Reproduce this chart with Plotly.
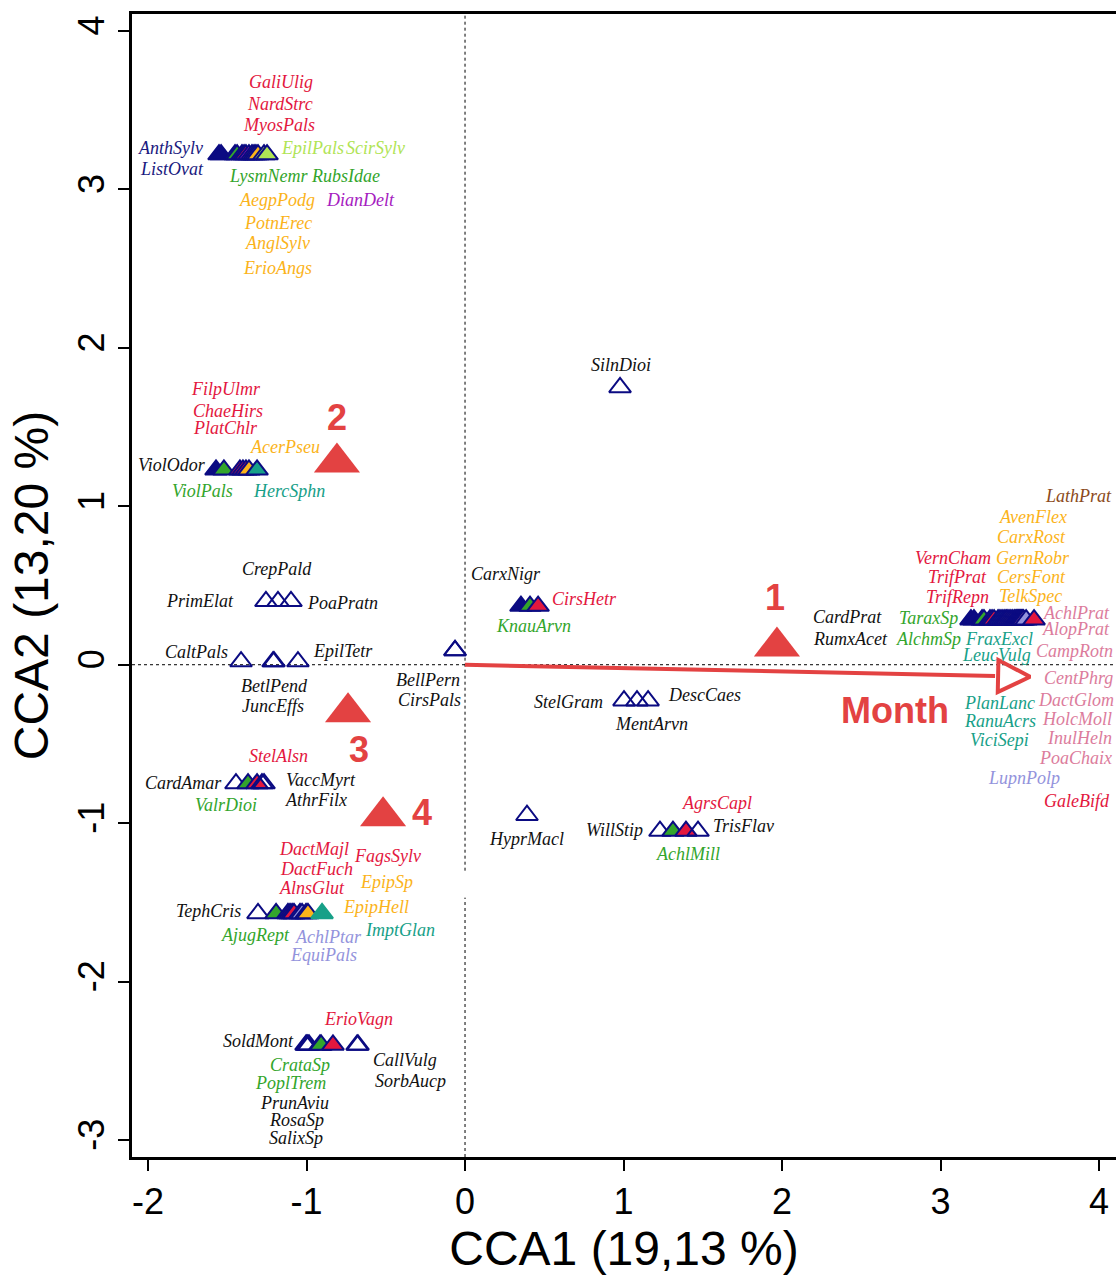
import plotly.graph_objects as go

# ---------------- data ----------------
species = [
    "AnthSylv", "ListOvat", "LysmNemr", "RubsIdae", "GaliUlig", "NardStrc", "MyosPals", "DianDelt",
    "AegpPodg", "PotnErec", "AnglSylv", "ErioAngs", "EpilPals", "ScirSylv",
    "ViolOdor", "ViolPals", "FilpUlmr", "ChaeHirs", "PlatChlr", "AcerPseu", "HercSphn",
    "PrimElat", "CrepPald", "PoaPratn",
    "CaltPals", "BetlPend", "JuncEffs", "EpilTetr",
    "BellPern", "CirsPals",
    "CarxNigr", "KnauArvn", "CirsHetr",
    "SilnDioi",
    "StelGram", "MentArvn", "DescCaes",
    "HyprMacl",
    "WillStip", "AchlMill", "AgrsCapl", "TrisFlav",
    "CardAmar", "ValrDioi", "StelAlsn", "VaccMyrt", "AthrFilx",
    "TephCris", "AjugRept", "DactMajl", "DactFuch", "AlnsGlut", "FagsSylv", "AchlPtar", "EquiPals",
    "EpipSp", "EpipHell", "ImptGlan",
    "SoldMont", "PrunAviu", "RosaSp", "SalixSp", "CrataSp", "PoplTrem", "ErioVagn", "CallVulg", "SorbAucp",
    "CardPrat", "RumxAcet", "TaraxSp", "AlchmSp", "VernCham", "TrifPrat", "TrifRepn",
    "FraxExcl", "LeucVulg", "PlanLanc", "RanuAcrs", "ViciSepi",
    "AvenFlex", "CarxRost", "GernRobr", "CersFont", "TelkSpec", "LathPrat",
    "AchlPrat", "AlopPrat", "CampRotn", "CentPhrg", "DactGlom", "HolcMoll", "InulHeln", "PoaChaix",
    "LupnPolp", "GaleBifd",
]
cca1 = [
    -1.552, -1.539, -1.451, -1.438, -1.407, -1.394, -1.382, -1.363,
    -1.344, -1.331, -1.319, -1.306, -1.268, -1.249,
    -1.571, -1.521, -1.420, -1.401, -1.382, -1.363, -1.312,
    -1.256, -1.180, -1.098,
    -1.413, -1.211, -1.205, -1.054,
    -0.063, -0.063,
    0.353, 0.410, 0.461,
    0.978,
    1.003, 1.085, 1.155,
    0.391,
    1.230, 1.312, 1.394, 1.470,
    -1.445, -1.369, -1.312, -1.281, -1.268,
    -1.306, -1.192, -1.117, -1.104, -1.091, -1.079, -1.041, -1.028,
    -1.003, -0.991, -0.902,
    -1.003, -0.997, -0.991, -0.984, -0.915, -0.908, -0.833, -0.681, -0.675,
    3.192, 3.211, 3.262, 3.274, 3.312, 3.325, 3.338,
    3.363, 3.375, 3.388, 3.401, 3.413,
    3.420, 3.432, 3.444, 3.456, 3.468, 3.476,
    3.482, 3.488, 3.494, 3.500, 3.506, 3.512, 3.518, 3.524,
    3.540, 3.590,
]
cca2 = (
    [3.22] * 14 + [1.23] * 7 + [0.40] * 3 + [0.02] * 4 + [0.09] * 2 + [0.37] * 3 + [1.75]
    + [-0.227] * 3 + [-0.95] + [-1.05] * 4 + [-0.75] * 5 + [-1.57] * 11 + [-2.40] * 9 + [0.284] * 29
)
group = [
    "navy", "navy", "green", "green", "red", "red", "red", "purple",
    "gold", "gold", "gold", "gold", "lgreen", "lgreen",
    "base", "green", "red", "red", "red", "gold", "teal",
    "none", "none", "none",
    "none", "none", "none", "none",
    "none", "none",
    "base", "green", "red",
    "none",
    "none", "none", "none",
    "none",
    "none", "green", "red", "none",
    "none", "green", "red", "none", "none",
    "none", "green", "red", "red", "red", "red", "lav", "lav",
    "gold", "gold", "teal2",
    "none", "none", "none", "none", "green", "green", "red", "none", "none",
    "base", "base", "green", "green", "red", "red", "red",
    "teal", "teal", "teal", "teal", "teal",
    "gold", "gold", "gold", "gold", "gold", "brown",
    "pink", "pink", "pink", "pink", "pink", "pink", "pink", "pink",
    "lav", "red",
]

# label placement (data units)
label_x = [
    -1.861, -1.849, -1.243, -0.757, -1.161, -1.167, -1.174, -0.662,
    -1.186, -1.180, -1.186, -1.186, -0.965, -0.562,
    -1.849, -1.659, -1.508, -1.495, -1.508, -1.136, -1.110,
    -1.672, -1.186, -0.776,
    -1.691, -1.205, -1.211, -0.770,
    -0.233, -0.221,
    0.259, 0.435, 0.751,
    0.984,
    0.650, 1.174, 1.508,
    0.391,
    0.946, 1.407, 1.590, 1.754,
    -1.773, -1.508, -1.174, -0.909, -0.940,
    -1.621, -1.325, -0.953, -0.940, -0.965, -0.486, -0.864, -0.896,
    -0.498, -0.562, -0.410,
    -1.306, -1.073, -1.066, -1.066, -1.041, -1.098, -0.669, -0.379, -0.341,
    2.416, 2.435, 2.927, 2.927, 3.079, 3.110, 3.104,
    3.369, 3.356, 3.369, 3.375, 3.369,
    3.584, 3.577, 3.584, 3.571, 3.565, 3.868,
    3.855, 3.855, 3.842, 3.868, 3.855, 3.861, 3.874, 3.849,
    3.527, 3.861,
]
label_y = [
    3.262, 3.129, 3.085, 3.085, 3.678, 3.539, 3.407, 2.934,
    2.934, 2.789, 2.662, 2.505, 3.262, 3.262,
    1.262, 1.098, 1.741, 1.603, 1.495, 1.375, 1.098,
    0.404, 0.606, 0.391,
    0.082, -0.132, -0.259, 0.088,
    -0.095, -0.221,
    0.574, 0.246, 0.416,
    1.893,
    -0.233, -0.372, -0.189,
    -1.098,
    -1.041, -1.192, -0.871, -1.016,
    -0.744, -0.883, -0.574, -0.726, -0.852,
    -1.552, -1.703, -1.161, -1.287, -1.407, -1.205, -1.716, -1.830,
    -1.369, -1.527, -1.672,
    -2.372, -2.763, -2.871, -2.984, -2.524, -2.637, -2.233, -2.492, -2.625,
    0.303, 0.164, 0.297, 0.164, 0.675, 0.555, 0.429,
    0.164, 0.063, -0.240, -0.353, -0.473,
    0.934, 0.808, 0.675, 0.555, 0.435, 1.066,
    0.328, 0.227, 0.088, -0.082, -0.221, -0.341, -0.461, -0.587,
    -0.713, -0.858,
]

# site centroids (months)
sites = ["1", "2", "3", "4"]
site_x = [1.968, -0.808, -0.738, -0.517]
site_y = [0.115, 1.276, -0.300, -0.957]
site_label_x = [1.956, -0.808, -0.669, -0.271]
site_label_y = [0.423, 1.558, -0.536, -0.934]

# environmental vector
env_name = "Month"
env_x = 3.565
env_y = -0.076
env_label_x = 2.713
env_label_y = -0.290

x_ticks = [-2, -1, 0, 1, 2, 3, 4]
x_ticktext = ["-2", "-1", "0", "1", "2", "3", "4"]
y_ticks = [-3, -2, -1, 0, 1, 2, 3, 4]
y_ticktext = ["-3", "-2", "-1", "0", "1", "2", "3", "4"]

X_RANGE = [-2.101, 4.107]
Y_RANGE = [-3.107, 4.107]
V_GAP = [-1.47, -1.30]   # gap in the vertical dotted line

# ---------------- styles ----------------
NAVY = "#0b0b82"
RED_SITE = "#e34242"
fill_col = {
    "navy": NAVY, "base": NAVY, "green": "#33a52c", "red": "#e3173e", "purple": "#a520c0",
    "gold": "#fbb31a", "lgreen": "#b0e455", "teal": "#17a088", "teal2": "#17a088",
    "lav": "#9393dc", "pink": "#dc7c9c", "brown": "#8b4a20",
}
text_col = dict(fill_col)
text_col["navy"] = "#1a1a80"
text_col["base"] = "#111111"
text_col["none"] = "#111111"

symbols, mcolors, lcolors = [], [], []
for g in group:
    if g == "none":
        symbols.append("triangle-up-open")
        mcolors.append(NAVY)
        lcolors.append(NAVY)
    else:
        symbols.append("triangle-up")
        mcolors.append(fill_col[g])
        lcolors.append(fill_col[g] if g == "teal2" else NAVY)

def to_paper_y(v):
    return (v - Y_RANGE[0]) / (Y_RANGE[1] - Y_RANGE[0])

fig = go.Figure()

# dotted reference lines
fig.add_shape(type="line", xref="paper", yref="y", x0=0, x1=1, y0=0, y1=0,
              line=dict(color="black", width=1, dash="dot"), layer="below")
fig.add_shape(type="line", xref="x", yref="paper", x0=0, x1=0, y0=to_paper_y(V_GAP[1]), y1=1,
              line=dict(color="black", width=1, dash="dot"), layer="below")
fig.add_shape(type="line", xref="x", yref="paper", x0=0, x1=0, y0=0, y1=to_paper_y(V_GAP[0]),
              line=dict(color="black", width=1, dash="dot"), layer="below")

# species points
fig.add_trace(go.Scatter(
    x=cca1, y=cca2, mode="markers", text=species, hoverinfo="text",
    marker=dict(symbol=symbols, size=19, color=mcolors, line=dict(color=lcolors, width=2)),
    showlegend=False,
))

# environmental arrow
frac = 0.938
fig.add_trace(go.Scatter(
    x=[0, env_x * frac], y=[0, env_y * frac], mode="lines",
    line=dict(color=RED_SITE, width=4), showlegend=False, hoverinfo="skip",
))
fig.add_trace(go.Scatter(
    x=[env_x], y=[env_y], mode="markers",
    marker=dict(symbol="arrow-right-open", size=32, color=RED_SITE, line=dict(width=4, color=RED_SITE),
                angle=1.2),
    showlegend=False, hoverinfo="skip",
))

# site centroids
fig.add_trace(go.Scatter(
    x=site_x, y=site_y, mode="markers", text=sites, hoverinfo="text",
    marker=dict(symbol="triangle-up", size=40, color=RED_SITE, line=dict(width=0)),
    showlegend=False,
))

annotations = []
for name, lx, ly, g in zip(species, label_x, label_y, group):
    annotations.append(dict(
        x=lx, y=ly, xref="x", yref="y", text=name, showarrow=False,
        xanchor="center", yanchor="middle",
        font=dict(family="Liberation Serif", size=18, style="italic", color=text_col[g]),
    ))
for s, lx, ly in zip(sites, site_label_x, site_label_y):
    annotations.append(dict(
        x=lx, y=ly, xref="x", yref="y", text="<b>%s</b>" % s, showarrow=False,
        font=dict(family="Liberation Sans", size=36, color=RED_SITE),
    ))
annotations.append(dict(
    x=env_label_x, y=env_label_y, xref="x", yref="y", text="<b>%s</b>" % env_name, showarrow=False,
    font=dict(family="Liberation Sans", size=36, color=RED_SITE),
))

axis_common = dict(
    showline=True, linecolor="black", linewidth=2.5,
    ticks="outside", ticklen=11, tickwidth=2, tickcolor="black",
    showgrid=False, zeroline=False,
    tickfont=dict(family="Liberation Sans", size=36, color="black"),
)

fig.update_layout(
    width=1116, height=1277,
    margin=dict(l=132, r=0, t=14, b=120),
    paper_bgcolor="white", plot_bgcolor="white",
    xaxis=dict(range=X_RANGE, tickvals=x_ticks, ticktext=x_ticktext, mirror=True,
               title=dict(text="CCA1 (19,13 %)", font=dict(family="Liberation Sans", size=48, color="black"),
                          standoff=10),
               **axis_common),
    yaxis=dict(range=Y_RANGE, tickvals=y_ticks, ticktext=y_ticktext, tickangle=-90, mirror=False,
               title=dict(text="CCA2 (13,20 %)", font=dict(family="Liberation Sans", size=48, color="black"),
                          standoff=8),
               **axis_common),
    annotations=annotations,
)

fig.write_html("out.html")
